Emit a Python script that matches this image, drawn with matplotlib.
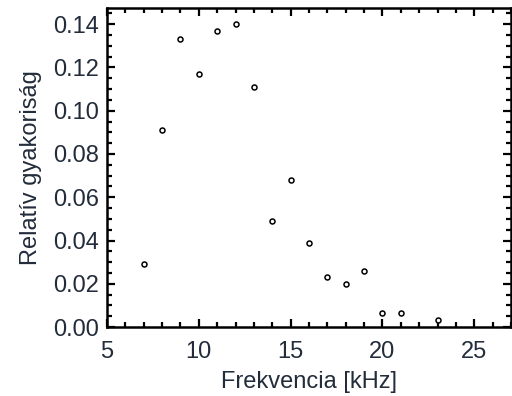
import matplotlib
matplotlib.use("Agg")
import matplotlib.pyplot as plt
from matplotlib.ticker import MultipleLocator

freq_khz = [7, 8, 9, 10, 11, 12, 13, 14, 15, 16, 17, 18, 19, 20, 21, 23]
rel_freq = [0.029, 0.091, 0.133, 0.117, 0.137, 0.140, 0.111, 0.049, 0.068,
            0.039, 0.023, 0.020, 0.026, 0.0065, 0.0065, 0.0035]

plt.rcParams['font.family'] = ['Liberation Sans', 'DejaVu Sans']
txt = '#222c3a'

fig = plt.figure(figsize=(5.12, 3.96), dpi=100)
ax = fig.add_axes([0.209, 0.174, 0.789, 0.806])
ax.plot(freq_khz, rel_freq, linestyle='none', marker='o', markersize=3.6,
        markerfacecolor='white', markeredgecolor='black', markeredgewidth=1.1)

ax.set_xlim(5, 27)
ax.set_ylim(0, 0.1475)
ax.xaxis.set_major_locator(MultipleLocator(5))
ax.xaxis.set_minor_locator(MultipleLocator(1))
ax.yaxis.set_major_locator(MultipleLocator(0.02))
ax.yaxis.set_minor_locator(MultipleLocator(0.005))
ax.yaxis.set_major_formatter(plt.FuncFormatter(lambda v, p: f"{v:.2f}"))

for s in ax.spines.values():
    s.set_linewidth(1.8)
ax.tick_params(which='both', direction='in', top=True, right=True,
               labelsize=17, labelcolor=txt, width=1.6)
ax.tick_params(which='major', length=6)
ax.tick_params(which='minor', length=3.5)
ax.tick_params(axis='x', pad=10)
ax.tick_params(axis='y', pad=6)

ax.set_xlabel('Frekvencia [kHz]', fontsize=17, color=txt, labelpad=6)
ax.set_ylabel('Relatív gyakoriság', fontsize=17, color=txt, labelpad=8)

fig.savefig('out.png', dpi=100)
